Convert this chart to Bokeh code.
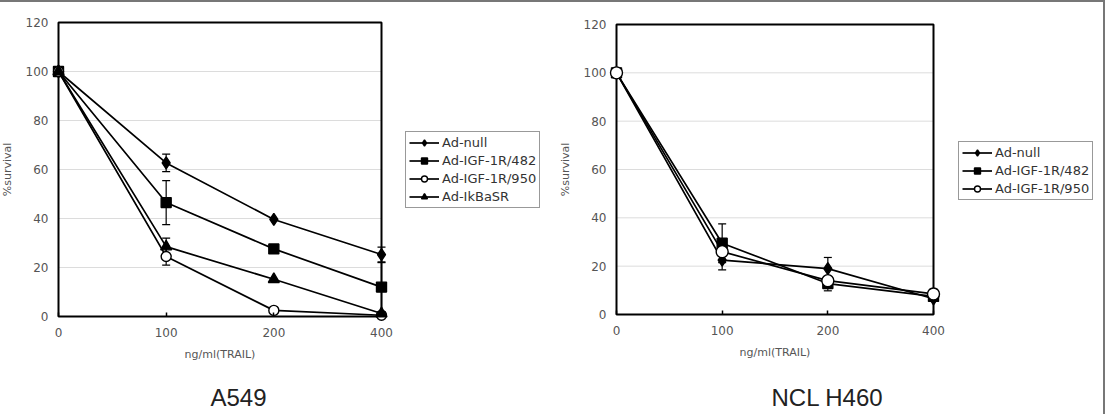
from bokeh.plotting import figure
from bokeh.layouts import row
from bokeh.models import (ColumnDataSource, Whisker, TeeHead, FixedTicker, BoxAnnotation,
                          Legend, LegendItem, Label, Range1d, LinearAxis)
from bokeh.embed import file_html
from bokeh.resources import INLINE

# ---------------- data ----------------
doses = ["0", "100", "200", "400"]
y_ticks = [0, 20, 40, 60, 80, 100, 120]

a549_title = "A549"
a549_series = ["Ad-null", "Ad-IGF-1R/482", "Ad-IGF-1R/950", "Ad-IkBaSR"]
a549_null = [100, 62.7, 39.6, 25.3]
a549_482 = [100, 46.5, 27.6, 12.0]
a549_950 = [100, 24.5, 2.5, 0.5]
a549_ikb = [100, 28.5, 15.2, 1.2]
a549_null_err = [0, 3.6, 0, 3.0]
a549_482_err = [0, 9.0, 0, 10.0]
a549_950_err = [0, 3.5, 0, 0]
a549_ikb_err = [0, 3.5, 0, 0]

h460_title = "NCL H460"
h460_series = ["Ad-null", "Ad-IGF-1R/482", "Ad-IGF-1R/950"]
h460_null = [100, 22.5, 19.0, 6.5]
h460_482 = [100, 29.5, 12.8, 7.5]
h460_950 = [100, 26.0, 14.0, 8.5]
h460_null_err = [0, 4.0, 4.6, 0]
h460_482_err = [0, 8.0, 3.0, 0]
h460_950_err = [0, 0, 0, 2.0]

x_label = "ng/ml(TRAIL)"
y_label = "%survival"

MARKERS = ["diamond", "square", "circle", "triangle"]
SIZES = [12, 10, 10, 11]
FILLS = ["black", "black", "white", "black"]

TICK_FONT = "DejaVu Sans"


def build(title, names, vals_list, errs_list, box_left, box_top, box_w, box_h,
          fig_w, fig_h, legend_top_left, title_center, circle_size):
    xs = box_w / 3.0
    ys = box_h / 120.0
    p = figure(frame_width=fig_w, frame_height=fig_h,
               min_border=0,
               x_range=Range1d(-box_left / xs, (fig_w - box_left) / xs),
               y_range=Range1d(-(fig_h - box_top - box_h) / ys, 120 + box_top / ys),
               x_axis_location=None, y_axis_location=None,
               output_backend="svg", toolbar_location=None)
    p.outline_line_color = None
    p.border_fill_color = None
    p.background_fill_color = None
    p.xgrid.visible = False
    p.ygrid.visible = False

    xpos = list(range(len(doses)))

    # grid lines inside the box
    inner = y_ticks[1:-1]
    p.segment(x0=[xpos[0]] * len(inner), x1=[xpos[-1]] * len(inner), y0=inner, y1=inner,
              line_color="#dcdcdc", line_width=1, level="underlay")

    box = BoxAnnotation(left=xpos[0], right=xpos[-1], bottom=y_ticks[0], top=y_ticks[-1],
                        fill_color=None, fill_alpha=0, line_color="black", line_alpha=1,
                        line_width=2, level="underlay")
    p.add_layout(box)

    # axes (fixed at the box edges)
    xaxis = LinearAxis(fixed_location=y_ticks[0], bounds=(xpos[0], xpos[-1]),
                       ticker=FixedTicker(ticks=xpos),
                       major_label_overrides={i: d for i, d in enumerate(doses)},
                       axis_label=x_label)
    yaxis = LinearAxis(fixed_location=xpos[0], bounds=(y_ticks[0], y_ticks[-1]),
                       ticker=FixedTicker(ticks=y_ticks), axis_label=y_label)
    for ax in (xaxis, yaxis):
        ax.axis_line_color = None
        ax.minor_tick_line_color = None
        ax.major_label_text_font = TICK_FONT
        ax.major_label_text_font_size = "12px"
        ax.major_label_text_color = "#555555"
        ax.axis_label_text_font = TICK_FONT
        ax.axis_label_text_font_size = "11px"
        ax.axis_label_text_color = "#555555"
        ax.axis_label_text_font_style = "normal"
    xaxis.major_tick_in = 4
    xaxis.major_tick_out = 0
    xaxis.major_tick_line_color = "black"
    xaxis.major_tick_line_width = 1.5
    yaxis.major_tick_in = 0
    yaxis.major_tick_out = 0
    yaxis.major_tick_line_color = None
    xaxis.major_label_standoff = 11
    yaxis.major_label_standoff = 10
    xaxis.axis_label_standoff = 8
    yaxis.axis_label_standoff = 9
    p.add_layout(xaxis, "below")
    p.add_layout(yaxis, "left")

    items = []
    for i, (name, vals, errs) in enumerate(zip(names, vals_list, errs_list)):
        src = ColumnDataSource(dict(x=xpos, y=vals))
        idx = [k for k, e in enumerate(errs) if e > 0]
        if idx:
            wsrc = ColumnDataSource(dict(
                x=[xpos[k] for k in idx],
                upper=[vals[k] + errs[k] for k in idx],
                lower=[vals[k] - errs[k] for k in idx]))
            w = Whisker(source=wsrc, base="x", upper="upper", lower="lower",
                        line_color="black", line_width=1.2,
                        upper_head=TeeHead(size=8, line_color="black", line_width=1.2),
                        lower_head=TeeHead(size=8, line_color="black", line_width=1.2))
            p.add_layout(w)
        lr = p.line("x", "y", source=src, line_color="black", line_width=1.7)
        size = circle_size if MARKERS[i] == "circle" else SIZES[i]
        sr = p.scatter("x", "y", source=src, marker=MARKERS[i], size=size,
                       fill_color=FILLS[i], line_color="black", line_width=1.4)
        items.append(LegendItem(label=name, renderers=[lr, sr]))

    lx, ly = legend_top_left
    n = len(names)
    gh, sp, pd = 15, 3, 3
    lh = n * gh + (n - 1) * sp + 2 * pd
    legend = Legend(items=items,
                    location=(lx, fig_h - (ly + lh)),
                    glyph_width=30, glyph_height=gh, label_height=gh,
                    spacing=sp, padding=pd, margin=0, label_standoff=3,
                    label_text_font=TICK_FONT, label_text_font_size="13px",
                    label_text_color="#333333",
                    border_line_color="#333333", border_line_width=1.2,
                    background_fill_color="white", background_fill_alpha=1)
    p.add_layout(legend)

    cx, cy = title_center
    p.add_layout(Label(x=(cx - box_left) / xs, y=-(cy - (box_top + box_h)) / ys,
                       text=title, text_align="center", text_baseline="middle",
                       text_font="Liberation Sans", text_font_size="24px",
                       text_color="#222222"))
    return p


p1 = build(a549_title, a549_series, [a549_null, a549_482, a549_950, a549_ikb],
           [a549_null_err, a549_482_err, a549_950_err, a549_ikb_err],
           box_left=58, box_top=22, box_w=323, box_h=294, fig_w=552, fig_h=414,
           legend_top_left=(405, 133), title_center=(238, 397), circle_size=10)

p2 = build(h460_title, h460_series, [h460_null, h460_482, h460_950],
           [h460_null_err, h460_482_err, h460_950_err],
           box_left=64, box_top=24, box_w=317, box_h=290, fig_w=553, fig_h=414,
           legend_top_left=(406, 143), title_center=(275, 397), circle_size=12)

layout = row(p1, p2, styles={"box-shadow": "inset -2px 2px 0 #777777"})

open("out.html", "w").write(file_html(layout, INLINE))
